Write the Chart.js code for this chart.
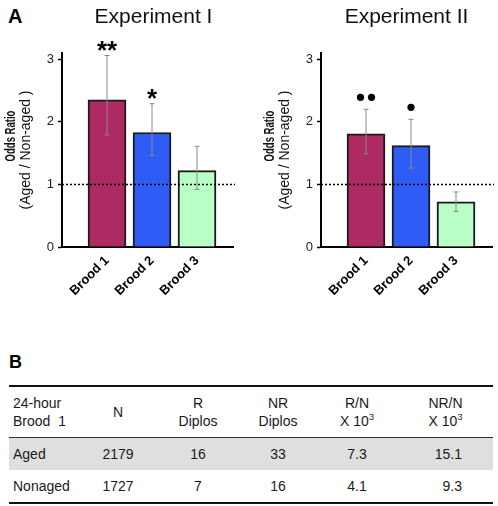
<!DOCTYPE html>
<html lang="en">
<head>
    <meta charset="UTF-8">
    <title>Odds Ratio by Brood</title>
    <script src="https://cdn.jsdelivr.net/npm/chart.js"></script>
    <style>
        body {
            margin: 0;
            width: 498px;
            height: 506px;
            position: relative;
            background: #fff;
            color: #1a1a1a;
            font-family: Arial, "Liberation Sans", sans-serif;
        }
        canvas { position: absolute; top: 0; }
        .panel-label {
            position: absolute;
            font-weight: bold;
            color: #000;
        }
        #tbl {
            position: absolute;
            left: 9px;
            top: 385px;
            width: 484px;
            border-collapse: collapse;
            table-layout: fixed;
            font-size: 14px;
            line-height: 18px;
            border-top: 2px solid #111;
            border-bottom: 2px solid #111;
        }
        #tbl td { padding: 0; text-align: center; vertical-align: middle; }
        #tbl td:first-child { text-align: left; padding-left: 4px; }
        #tbl thead td { height: 50px; border-bottom: 1px solid #333; }
        #tbl tbody td { height: 32px; }
        #tbl tbody tr:first-child { background: #dfdfdf; }
        #tbl tbody td:last-child { text-align: right; padding-right: 31px; }
        #tbl sup { font-size: 9px; line-height: 0; vertical-align: 6px; }
    </style>
</head>
<body>
    <div class="panel-label" style="left:8px; top:6px; font-size:20px; line-height:20px;">A</div>
    <canvas id="exp1Chart" width="249" height="320" style="left:0;"></canvas>
    <canvas id="exp2Chart" width="249" height="320" style="left:249px;"></canvas>

    <div class="panel-label" style="left:9px; top:353px; font-size:18px; line-height:18px;">B</div>
    <table id="tbl">
        <thead><tr id="headRow"></tr></thead>
        <tbody id="bodyRows"></tbody>
    </table>

    <script>
        // panel A data
        const broods = ['Brood 1', 'Brood 2', 'Brood 3'];
        const yTicks = [0, 1, 2, 3];

        const exp1Ratio = [2.35, 1.83, 1.22];
        const exp1Low   = [1.79, 1.46, 0.92];
        const exp1High  = [3.06, 2.29, 1.61];
        const exp1Sig   = ['**', '*', ''];

        const exp2Ratio = [1.81, 1.62, 0.72];
        const exp2Low   = [1.49, 1.26, 0.57];
        const exp2High  = [2.20, 2.04, 0.88];
        const exp2Sig   = ['••', '•', ''];

        // panel B table
        const tableHead = ['24-hour<br>Brood&nbsp;&nbsp;1', 'N', 'R<br>Diplos', 'NR<br>Diplos',
                           'R/N<br>X 10<sup>3</sup>', 'NR/N<br>X 10<sup>3</sup>'];
        const groups  = ['Aged', 'Nonaged'];
        const nCount  = [2179, 1727];
        const rDiplos = [16, 7];
        const nrDiplos = [33, 16];
        const rPerN   = ['7.3', '4.1'];
        const nrPerN  = ['15.1', '9.3'];

        Chart.defaults.font.family = 'Arial, "Liberation Sans", sans-serif';
        Chart.defaults.color = '#1a1a1a';

        const panelDecor = {
            id: 'panelDecor',
            afterDatasetsDraw(chart, args, opts) {
                const { ctx, chartArea: a, scales: { x, y } } = chart;
                ctx.save();

                // dotted line at odds ratio 1
                const y1 = y.getPixelForValue(1);
                ctx.setLineDash([2, 2]);
                ctx.lineWidth = 1.5;
                ctx.strokeStyle = '#000';
                ctx.beginPath();
                ctx.moveTo(a.left, y1);
                ctx.lineTo(a.right + 2, y1);
                ctx.stroke();
                ctx.setLineDash([]);

                // error bars + significance marks
                opts.low.forEach((lo, i) => {
                    const px = x.getPixelForValue(i + 1);
                    const top = y.getPixelForValue(opts.high[i]);
                    const bot = y.getPixelForValue(lo);
                    ctx.strokeStyle = '#8a8a8a';
                    ctx.lineWidth = 1;
                    ctx.beginPath();
                    ctx.moveTo(px, top); ctx.lineTo(px, bot);
                    ctx.moveTo(px - 2.5, top); ctx.lineTo(px + 2.5, top);
                    ctx.moveTo(px - 2.5, bot); ctx.lineTo(px + 2.5, bot);
                    ctx.stroke();

                    const s = opts.sig[i];
                    if (!s) return;
                    ctx.fillStyle = '#000';
                    if (s.includes('•')) {
                        const cy = top - 12;
                        const n = s.length;
                        for (let k = 0; k < n; k++) {
                            ctx.beginPath();
                            ctx.arc(px + (k - (n - 1) / 2) * 11, cy, 3.6, 0, Math.PI * 2);
                            ctx.fill();
                        }
                    } else {
                        ctx.font = 'bold 26px Arial, "Liberation Sans", sans-serif';
                        ctx.textAlign = 'center';
                        ctx.textBaseline = 'alphabetic';
                        const m = ctx.measureText(s);
                        const cy = top - 9.5;
                        ctx.fillText(s, px, cy + (m.actualBoundingBoxAscent - m.actualBoundingBoxDescent) / 2);
                    }
                });

                // panel title
                ctx.fillStyle = '#111';
                ctx.font = '21px Arial, "Liberation Sans", sans-serif';
                ctx.textAlign = 'center';
                ctx.textBaseline = 'alphabetic';
                ctx.fillText(opts.title, (a.left + a.right) / 2 + opts.titleShift, 23);

                // y axis title, two lines
                ctx.translate(a.left, 0);
                ctx.rotate(-Math.PI / 2);
                ctx.textBaseline = 'middle';
                ctx.font = '14px Arial, "Liberation Sans", sans-serif';
                ctx.fillText('(Aged / Non-aged )', -150, -36);
                ctx.translate(-136, -51);
                ctx.scale(0.68, 1);
                ctx.font = 'bold 14px Arial, "Liberation Sans", sans-serif';
                ctx.fillText('Odds Ratio', 0, 0);
                ctx.restore();
            }
        };

        function renderExperiment(canvasId, title, ratio, low, high, sig, axisWidth, padRight, titleShift) {
            return new Chart(document.getElementById(canvasId), {
                type: 'bar',
                data: {
                    datasets: [{
                        data: broods.map((b, i) => ({ x: i + 1, y: ratio[i] })),
                        backgroundColor: ['#ad2a62', '#2f5cf7', '#b9ffc8'],
                        borderColor: '#1a1a1a',
                        borderWidth: 2,
                        barThickness: 38
                    }]
                },
                options: {
                    responsive: false,
                    animation: false,
                    layout: { padding: { top: 53, right: padRight, left: 0, bottom: 0 } },
                    plugins: {
                        legend: { display: false },
                        tooltip: { enabled: false },
                        panelDecor: { title, low, high, sig, titleShift }
                    },
                    scales: {
                        x: {
                            type: 'linear',
                            offset: false,
                            min: 0,
                            max: 3.8,
                            afterBuildTicks: s => { s.ticks = broods.map((b, i) => ({ value: i + 1 })); },
                            afterFit: s => { s.height = 73; },
                            ticks: {
                                callback: v => broods[v - 1] || '',
                                minRotation: 45,
                                maxRotation: 45,
                                autoSkip: false,
                                padding: 6,
                                color: '#000',
                                font: { size: 13, weight: 'bold' }
                            },
                            grid: { offset: false, drawOnChartArea: false, drawTicks: false },
                            border: { color: '#000', width: 2 }
                        },
                        y: {
                            min: 0,
                            max: 3.1,
                            afterBuildTicks: s => { s.ticks = yTicks.map(v => ({ value: v })); },
                            afterFit: s => { s.width = axisWidth; },
                            ticks: { padding: 4, color: '#222', font: { size: 13 } },
                            grid: { drawOnChartArea: false, tickLength: 4, tickColor: '#000', tickWidth: 1.5 },
                            border: { color: '#000', width: 2 }
                        }
                    }
                },
                plugins: [panelDecor]
            });
        }

        function renderTable() {
            document.getElementById('headRow').innerHTML = tableHead.map(h => `<td>${h}</td>`).join('');
            document.getElementById('bodyRows').innerHTML = groups.map((g, i) =>
                `<tr><td>${g}</td><td>${nCount[i]}</td><td>${rDiplos[i]}</td><td>${nrDiplos[i]}</td>` +
                `<td>${rPerN[i]}</td><td>${nrPerN[i]}</td></tr>`).join('');
            const widths = [71, 76, 84, 76, 82, 95];
            const cg = document.createElement('colgroup');
            cg.innerHTML = widths.map(w => `<col style="width:${w}px">`).join('');
            document.getElementById('tbl').prepend(cg);
        }

        renderExperiment('exp1Chart', 'Experiment I', exp1Ratio, exp1Low, exp1High, exp1Sig, 62, 16, 6);
        renderExperiment('exp2Chart', 'Experiment II', exp2Ratio, exp2Low, exp2High, exp2Sig, 72, 6, 0);
        renderTable();
    </script>
</body>
</html>
